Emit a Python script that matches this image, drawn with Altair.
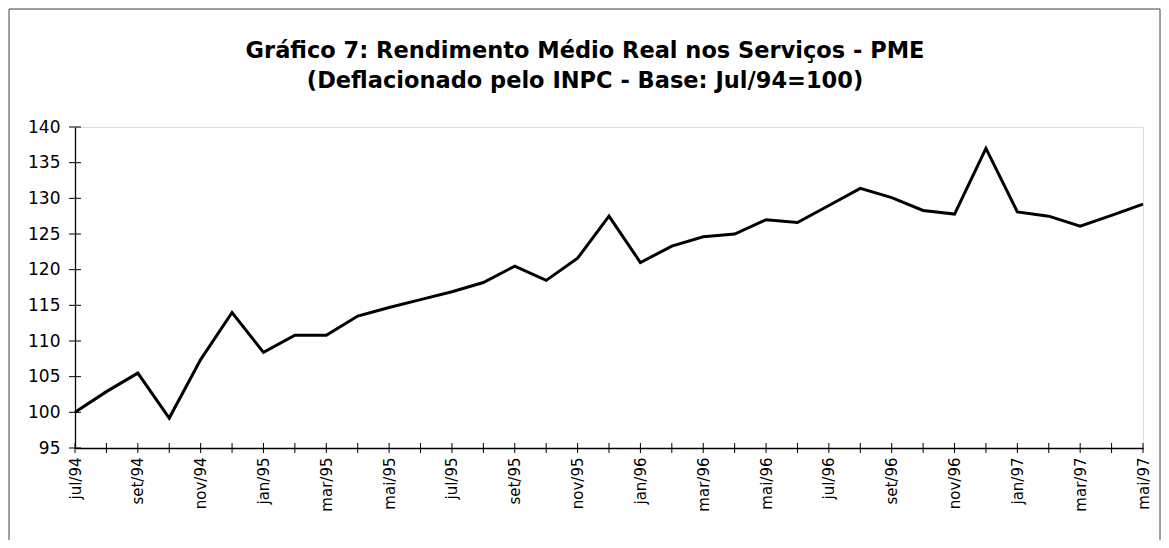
import altair as alt
import pandas as pd

meses = ["jul/94", "ago/94", "set/94", "out/94", "nov/94", "dez/94",
         "jan/95", "fev/95", "mar/95", "abr/95", "mai/95", "jun/95",
         "jul/95", "ago/95", "set/95", "out/95", "nov/95", "dez/95",
         "jan/96", "fev/96", "mar/96", "abr/96", "mai/96", "jun/96",
         "jul/96", "ago/96", "set/96", "out/96", "nov/96", "dez/96",
         "jan/97", "fev/97", "mar/97", "abr/97", "mai/97"]
valores = [100.0, 102.9, 105.5, 99.2, 107.4, 114.0,
           108.4, 110.8, 110.8, 113.5, 114.7, 115.8,
           116.9, 118.2, 120.5, 118.5, 121.6, 127.5,
           121.0, 123.3, 124.6, 125.0, 127.0, 126.6,
           129.0, 131.4, 130.1, 128.3, 127.8, 137.0,
           128.1, 127.5, 126.1, 127.6, 129.2]
y_ticks = [95, 100, 105, 110, 115, 120, 125, 130, 135, 140]
x_labels = meses[::2]
titulo = ["Gráfico 7: Rendimento Médio Real nos Serviços - PME",
          "(Deflacionado pelo INPC - Base: Jul/94=100)"]

FONT = "DejaVu Sans"
W, H = 1068, 321

df = pd.DataFrame({"mes": meses, "valor": valores})
df_yt = pd.DataFrame({"valor": y_ticks})
df_title = pd.DataFrame({"t": titulo, "dy": [-69, -39]})
df_one = pd.DataFrame({"a": [0]})

x_scale = alt.Scale(type="point", padding=0)
y_scale = alt.Scale(domain=[95, 140], nice=False, zero=False)

x_axis = alt.Axis(values=x_labels, labelAngle=270, labelAlign="right",
                  labelBaseline="middle", labelPadding=9, ticks=False,
                  labelFontSize=15, labelFont=FONT, labelColor="black",
                  labelOverlap=False,
                  domainColor="black", domainWidth=1.3, title=None,
                  grid=False)
y_axis = alt.Axis(values=y_ticks, ticks=False, labelPadding=15,
                  labelFontSize=17, labelFont=FONT, labelColor="black",
                  labelOverlap=False, labelBound=False, labelFlush=False,
                  domainColor="black", domainWidth=1.3, title=None,
                  grid=False)

line = alt.Chart(df).mark_line(color="black", strokeWidth=3).encode(
    x=alt.X("mes:N", sort=meses, scale=x_scale, axis=x_axis),
    y=alt.Y("valor:Q", scale=y_scale, axis=y_axis),
)

xticks = alt.Chart(df).mark_rule(color="black", strokeWidth=1).encode(
    x=alt.X("mes:N", sort=meses, scale=x_scale, axis=x_axis),
    y=alt.value(H - 5), y2=alt.value(H + 5),
)

yticks = alt.Chart(df_yt).mark_rule(color="black", strokeWidth=1).encode(
    y=alt.Y("valor:Q", scale=y_scale, axis=y_axis),
    x=alt.value(-6), x2=alt.value(6),
)

title = alt.Chart(df_title).mark_text(
    font=FONT, fontSize=22.5, fontWeight="bold", color="black",
    align="center", baseline="alphabetic"
).encode(
    text="t:N",
    x=alt.value(510),
    y=alt.Y("dy:Q", scale=None),
)

border = alt.Chart(df_one).mark_rect(
    fill="white", fillOpacity=0, stroke="#404040", strokeWidth=1
).encode(
    x=alt.value(-66), x2=alt.value(1085),
    y=alt.value(-118), y2=alt.value(520),
)

chart = alt.layer(border, title, line, xticks, yticks).properties(
    width=W, height=H,
    padding={"left": 67, "top": 119, "right": 18, "bottom": 92},
    autosize=alt.AutoSizeParams(type="none"),
).configure_view(
    stroke="#808080", strokeWidth=1
).configure(background="white")

chart.save("out.html", embed_options={"renderer": "svg", "actions": False})
